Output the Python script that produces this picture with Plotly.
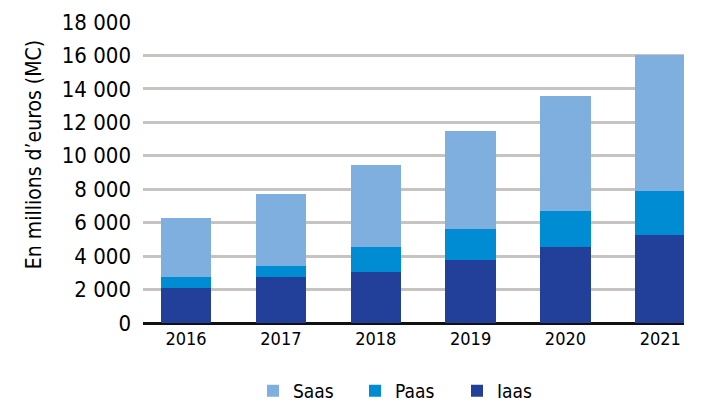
import plotly.graph_objects as go

years = ["2016", "2017", "2018", "2019", "2020", "2021"]
iaas = [2100, 2750, 3050, 3760, 4540, 5260]
paas = [650, 650, 1490, 1860, 2150, 2620]
saas = [3520, 4300, 4900, 5850, 6870, 8120]
y_ticks = [0, 2000, 4000, 6000, 8000, 10000, 12000, 14000, 16000, 18000]
y_tick_text = ["0", "2 000", "4 000", "6 000", "8 000", "10 000", "12 000", "14 000", "16 000", "18 000"]
y_title = "En millions d’euros (MC)"

FONT = "DejaVu Sans Condensed, Liberation Sans Narrow, Arial Narrow, sans-serif"

fig = go.Figure()
fig.add_trace(go.Bar(x=years, y=iaas, name="Iaas", marker_color="#22409A", marker_line_width=0, width=0.53))
fig.add_trace(go.Bar(x=years, y=paas, name="Paas", marker_color="#008CD2", marker_line_width=0, width=0.53))
fig.add_trace(go.Bar(x=years, y=saas, name="Saas", marker_color="#7FAFDE", marker_line_width=0, width=0.53))

fig.update_layout(
    barmode="stack",
    width=702, height=403,
    margin=dict(l=135, r=26, t=14, b=88, autoexpand=False),
    paper_bgcolor="white", plot_bgcolor="white",
    font=dict(family=FONT, color="#000000", size=19),
    showlegend=True,
    legend=dict(orientation="h", traceorder="reversed", xref="container", x=0.349, xanchor="left",
                yref="container", y=0.05, yanchor="middle", font=dict(size=19),
                entrywidth=57, itemwidth=30),
    xaxis=dict(type="category", range=[-0.454, 5.25], showgrid=False,
               showline=False, ticks="", tickfont=dict(size=18), ticklabelstandoff=3),
    yaxis=dict(range=[0, 18000], tickvals=y_ticks, ticktext=y_tick_text,
               showgrid=True, gridcolor="#C6C3C0", gridwidth=2.5,
               zeroline=True, zerolinecolor="#111111", zerolinewidth=2.5,
               showline=False, ticks="", ticklabelstandoff=11,
               tickfont=dict(size=22)),
    annotations=[dict(text=y_title, xref="paper", yref="paper", x=-0.2015, y=0.561,
                      xanchor="center", yanchor="middle", textangle=-90, showarrow=False,
                      font=dict(size=21))],
)

fig.write_html("out.html")
